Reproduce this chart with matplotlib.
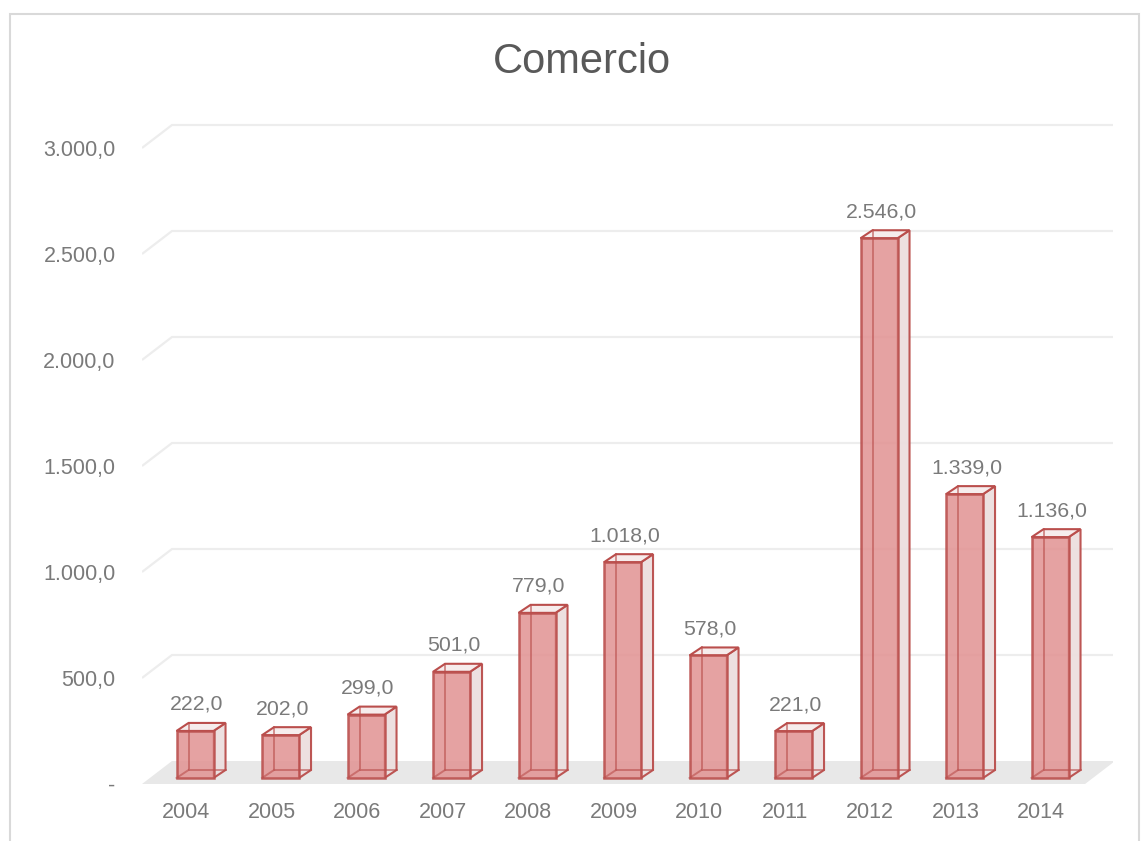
import matplotlib.pyplot as plt
from matplotlib.patches import Polygon, Rectangle

# Data
years = ['2004', '2005', '2006', '2007', '2008', '2009', '2010', '2011', '2012', '2013', '2014']
values = [222.0, 202.0, 299.0, 501.0, 779.0, 1018.0, 578.0, 221.0, 2546.0, 1339.0, 1136.0]
value_labels = ['222,0', '202,0', '299,0', '501,0', '779,0', '1.018,0', '578,0', '221,0',
                '2.546,0', '1.339,0', '1.136,0']
yticks = [0, 500, 1000, 1500, 2000, 2500, 3000]
ytick_labels = ['-', '500,0', '1.000,0', '1.500,0', '2.000,0', '2.500,0', '3.000,0']

plt.rcParams['font.family'] = ['Liberation Sans', 'DejaVu Sans']

W, H = 1142, 841
fig = plt.figure(figsize=(W / 100, H / 100), dpi=100)

# light frame around chart area
fig.patches.append(Rectangle((10 / W, -0.01), 1129 / W, 1 - 14 / H + 0.01,
                             transform=fig.transFigure, fill=False,
                             edgecolor='#D9D9D9', linewidth=1.5))

def box(l, t, r, b):
    return [l / W, 1 - b / H, (r - l) / W, (b - t) / H]

ax = fig.add_axes(box(142, 115, 1113, 790))
px_x = 85.5    # pixels per category
px_y = 0.212   # pixels per value unit
sx, sy = 1 / px_x, 1 / px_y
x0 = -0.515
ax.set_xlim(x0, x0 + 971 * sx)
ax.set_ylim(-6 * sy, (784 - 115) * sy)
for s in ax.spines.values():
    s.set_visible(False)

# 3d look: wall depth and bar geometry (in pixels converted to data units)
wdx, wdy = 30 * sx, 23 * sy
ox, oy = 9 * sx, 6 * sy
bw = 37 * sx
bdx, bdy = 12 * sx, 8 * sy
x1 = len(years) - 1 + 0.515

# floor
ax.add_patch(Polygon([(x0, 0), (x1, 0), (x1 + wdx, wdy), (x0 + wdx, wdy)],
                     closed=True, facecolor='#E8E8E8', edgecolor='none', zorder=1))

# gridlines on back wall
for v in yticks[1:]:
    ax.plot([x0, x0 + wdx, x0 + 971 * sx], [v, v + wdy, v + wdy],
            color='#EDEDED', linewidth=1.6, zorder=0, solid_capstyle='butt')

edge = '#BA4E4C'
front_c = '#E29595'
side_c = '#ECDFDF'
top_c = '#F6ECEC'

for i, v in enumerate(values):
    l = i + ox - bw / 2
    r = l + bw
    b = oy
    t = oy + v
    # side face
    ax.add_patch(Polygon([(r, b), (r + bdx, b + bdy), (r + bdx, t + bdy), (r, t)],
                         closed=True, facecolor=side_c, edgecolor=edge,
                         linewidth=1.5, alpha=0.95, zorder=4))
    # top face
    ax.add_patch(Polygon([(l, t), (r, t), (r + bdx, t + bdy), (l + bdx, t + bdy)],
                         closed=True, facecolor=top_c, edgecolor=edge,
                         linewidth=1.5, zorder=4))
    # front face
    ax.add_patch(Rectangle((l, b), bw, v, facecolor=front_c, edgecolor=edge,
                           linewidth=1.8, alpha=0.88, zorder=5))
    # hidden edges seen through the transparent bar
    ax.plot([l + bdx, l + bdx, r + bdx], [t + bdy, b + bdy, b + bdy],
            color=edge, linewidth=1.4, alpha=0.6, zorder=6)
    ax.plot([l, l + bdx], [b, b + bdy], color=edge, linewidth=1.4, alpha=0.6, zorder=6)
    ax.text(i + ox + 2 * sx, t + bdy + 9 * sy, value_labels[i], ha='center', va='bottom',
            fontsize=15.3, color='#7A7A7A', zorder=7)

ax.set_yticks(yticks)
ax.set_yticklabels(ytick_labels)
ax.set_xticks(range(len(years)))
ax.set_xticklabels(years)
ax.tick_params(axis='y', length=0, pad=19, labelsize=15.5, labelcolor='#7A7A7A')
ax.tick_params(axis='x', length=0, pad=9, labelsize=15.5, labelcolor='#7A7A7A')

fig.text(582 / W, 1 - 62 / H, 'Comercio', ha='center', va='center',
         fontsize=30, color='#595959')

fig.savefig('out.png', dpi=100)
